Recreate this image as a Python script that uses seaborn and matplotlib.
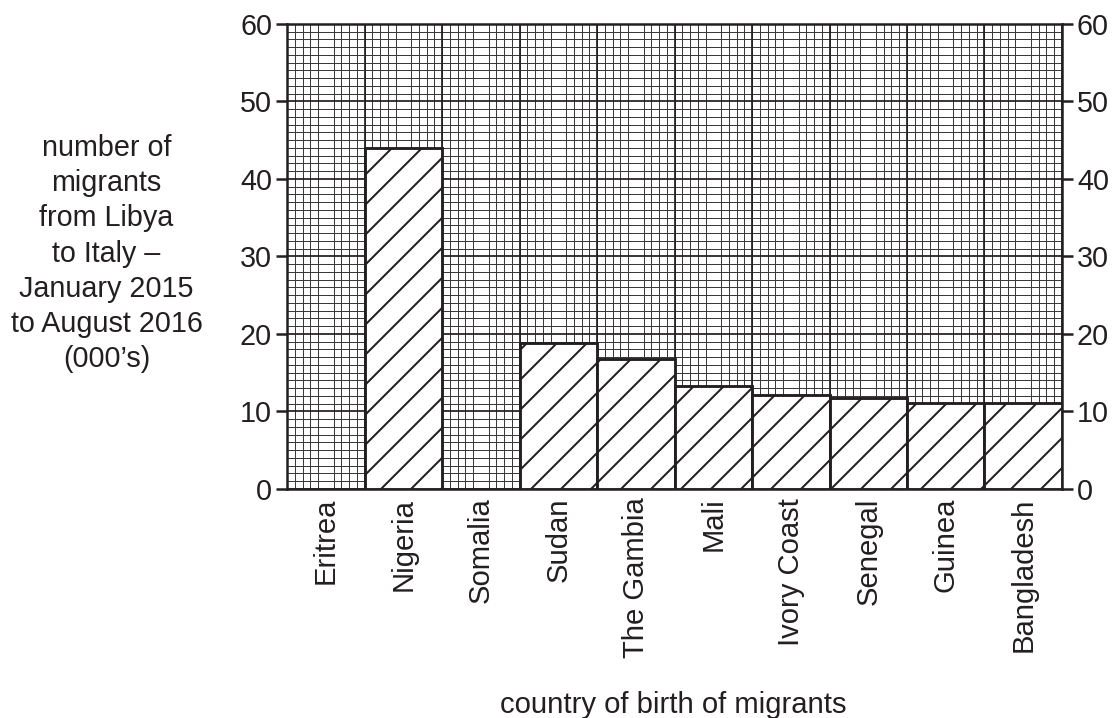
import matplotlib
matplotlib.use("Agg")
import matplotlib.pyplot as plt
import seaborn as sns
import pandas as pd
import numpy as np
from matplotlib.ticker import MultipleLocator, FixedLocator

# data (Eritrea and Somalia are left blank)
countries = ["Eritrea", "Nigeria", "Somalia", "Sudan", "The Gambia", "Mali",
             "Ivory Coast", "Senegal", "Guinea", "Bangladesh"]
migrants = [np.nan, 44.0, np.nan, 18.8, 16.8, 13.3, 12.1, 11.8, 11.1, 11.1]
y_ticks = [0, 10, 20, 30, 40, 50, 60]

ylabel = "number of\nmigrants\nfrom Libya\nto Italy –\nJanuary 2015\nto August 2016\n(000’s)"
xlabel = "country of birth of migrants"

sns.set_style("white")
plt.rcParams["font.family"] = ["Liberation Sans", "DejaVu Sans"]
plt.rcParams["hatch.linewidth"] = 0.8
plt.rcParams["hatch.color"] = "#231f20"

df = pd.DataFrame({"country": countries, "migrants": migrants})

fig = plt.figure(figsize=(1116 / 180, 718 / 180), dpi=180)
ax = fig.add_axes([0.2572, 0.319, 0.6944, 0.6476])

sns.barplot(data=df, x="country", y="migrants", order=countries, width=1.0,
            color="white", edgecolor="#231f20", linewidth=1.15, hatch="//",
            saturation=1, ax=ax, zorder=3)
for p in ax.patches:
    p.set_facecolor("white")
    p.set_hatch("//")

ax.set_xlim(-0.5, len(countries) - 0.5)
ax.set_ylim(0, 60)

# graph paper grid
ax.yaxis.set_major_locator(FixedLocator(y_ticks))
ax.yaxis.set_minor_locator(MultipleLocator(1))
ax.xaxis.set_minor_locator(FixedLocator(np.arange(-0.5, len(countries) - 0.45, 0.1)))
for x in np.arange(-0.5, len(countries), 1.0):
    ax.axvline(x, color="#231f20", lw=0.7, zorder=1)
ax.grid(True, which="major", axis="y", color="#231f20", lw=0.7, zorder=1)
ax.grid(True, which="minor", axis="both", color="#3a3a3a", lw=0.4, zorder=0)
ax.set_axisbelow(True)

for s in ax.spines.values():
    s.set_color("#231f20")
    s.set_linewidth(1.0)

ax.tick_params(axis="y", which="major", left=True, right=True, labelleft=True,
               labelright=True, length=4.5, width=1.0, color="#231f20",
               labelsize=11.5, labelcolor="#231f20", pad=1.5)
ax.tick_params(axis="y", which="minor", left=False, right=False)
ax.tick_params(axis="x", which="both", bottom=False, top=False)
ax.tick_params(axis="x", which="major", labelsize=11.7, labelcolor="#231f20",
               pad=0, labelrotation=90)

ax.set_xlabel(xlabel, fontsize=11.7, color="#231f20", va="center")
ax.xaxis.set_label_coords(0.498, -0.465)
ax.set_ylabel(ylabel, fontsize=11.5, color="#231f20", rotation=0,
              ha="center", va="center", linespacing=1.33)
ax.yaxis.set_label_coords(-0.233, 0.506)

fig.savefig("out.png", dpi=180)
